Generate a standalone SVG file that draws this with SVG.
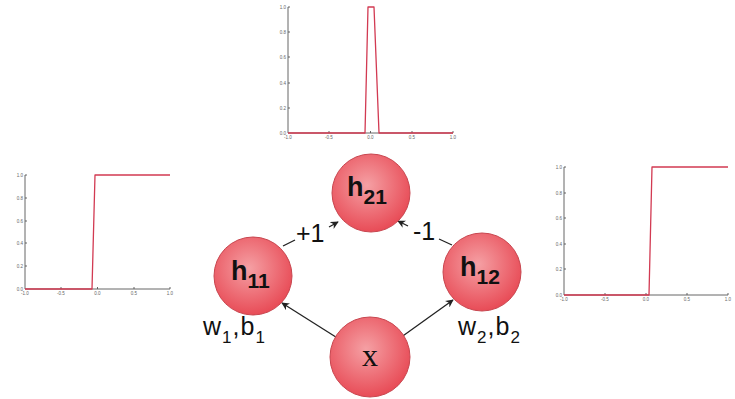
<svg xmlns="http://www.w3.org/2000/svg" width="735" height="399" viewBox="0 0 735 399">
<defs>
<radialGradient id="ball" cx="45%" cy="40%" r="60%">
<stop offset="0" stop-color="#f5a0a4"/>
<stop offset="1" stop-color="#e84c57"/>
</radialGradient>
<marker id="ah" viewBox="0 0 10 10" refX="9" refY="5" markerWidth="8" markerHeight="8" markerUnits="userSpaceOnUse" orient="auto">
<path d="M0,0 L10,5 L0,10 L3,5 Z" fill="#222"/>
</marker>
</defs>
<style>
.node{fill:url(#ball);stroke:#c8464f;stroke-width:1}
.nl{font-family:"Liberation Sans",Arial,sans-serif;font-weight:bold;fill:#111}
.lbl{font-family:"Liberation Sans",Arial,sans-serif;fill:#111}
.edge{stroke:#222;stroke-width:1.3;fill:none}
.ax{stroke:#555;stroke-width:0.9;fill:none}
.curve{stroke:#d23a52;stroke-width:1.3;fill:none;stroke-linejoin:round}
.tk{font-family:"Liberation Sans",Arial,sans-serif;font-size:4.5px;fill:#666}
</style>

<g id="plot-top">
<path class="ax" d="M288,7 V133 H453"/>
<path class="ax" d="M288,108 h2 M288,83 h2 M288,57 h2 M288,32 h2 M288,7 h2 M329,133 v-2 M370.5,133 v-2 M412,133 v-2 M453,133 v-2"/>
<path class="curve" d="M288,133 H365 L368,7 H374 L379,133 H453"/>
<g class="tk" text-anchor="end">
<text x="286" y="135">0.0</text><text x="286" y="110">0.2</text><text x="286" y="85">0.4</text><text x="286" y="59">0.6</text><text x="286" y="34">0.8</text><text x="286" y="9">1.0</text>
</g>
<g class="tk" text-anchor="middle">
<text x="288" y="139">-1.0</text><text x="329" y="139">-0.5</text><text x="370.5" y="139">0.0</text><text x="412" y="139">0.5</text><text x="453" y="139">1.0</text>
</g>
</g>

<g id="plot-left">
<path class="ax" d="M25,175 V289 H170"/>
<path class="ax" d="M25,266 h2 M25,243 h2 M25,221 h2 M25,198 h2 M25,175 h2 M61,289 v-2 M97.5,289 v-2 M134,289 v-2 M170,289 v-2"/>
<path class="curve" d="M25,289 H92 L95,175 H170"/>
<g class="tk" text-anchor="end">
<text x="23" y="291">0.0</text><text x="23" y="268">0.2</text><text x="23" y="245">0.4</text><text x="23" y="223">0.6</text><text x="23" y="200">0.8</text><text x="23" y="177">1.0</text>
</g>
<g class="tk" text-anchor="middle">
<text x="25" y="295">-1.0</text><text x="61" y="295">-0.5</text><text x="97.5" y="295">0.0</text><text x="134" y="295">0.5</text><text x="170" y="295">1.0</text>
</g>
</g>

<g id="plot-right">
<path class="ax" d="M564,167 V295 H728"/>
<path class="ax" d="M564,269 h2 M564,244 h2 M564,218 h2 M564,193 h2 M564,167 h2 M605,295 v-2 M646,295 v-2 M687,295 v-2 M728,295 v-2"/>
<path class="curve" d="M564,295 H649 L652,167 H728"/>
<g class="tk" text-anchor="end">
<text x="562" y="297">0.0</text><text x="562" y="271">0.2</text><text x="562" y="246">0.4</text><text x="562" y="220">0.6</text><text x="562" y="195">0.8</text><text x="562" y="169">1.0</text>
</g>
<g class="tk" text-anchor="middle">
<text x="564" y="301">-1.0</text><text x="605" y="301">-0.5</text><text x="646" y="301">0.0</text><text x="687" y="301">0.5</text><text x="728" y="301">1.0</text>
</g>
</g>

<g id="connectors">
<line class="edge" x1="283" y1="246" x2="295" y2="240"/>
<line class="edge" x1="329" y1="227" x2="338" y2="222" marker-end="url(#ah)"/>
<line class="edge" x1="452" y1="245" x2="439" y2="239"/>
<line class="edge" x1="408" y1="226" x2="398" y2="221" marker-end="url(#ah)"/>
<line class="edge" x1="339" y1="339" x2="282" y2="303" marker-end="url(#ah)"/>
<line class="edge" x1="400" y1="338" x2="453" y2="300" marker-end="url(#ah)"/>
<text class="lbl" x="296" y="242" font-size="25">+1</text>
<text class="lbl" x="413" y="240" font-size="25">-1</text>
</g>

<g id="node-h21">
<circle class="node" cx="371" cy="193" r="39"/>
<text class="nl" x="347" y="196" font-size="27">h<tspan font-size="21" dy="8">21</tspan></text>
</g>
<g id="node-h11">
<circle class="node" cx="253" cy="276" r="39"/>
<text class="nl" x="231" y="280" font-size="27">h<tspan font-size="21" dy="8">11</tspan></text>
</g>
<g id="node-h12">
<circle class="node" cx="482" cy="272" r="39"/>
<text class="nl" x="460" y="276" font-size="27">h<tspan font-size="21" dy="8">12</tspan></text>
</g>
<g id="node-x">
<circle class="node" cx="370" cy="357" r="40"/>
<text x="370" y="366" font-size="32" text-anchor="middle" font-family="'Liberation Serif','Times New Roman',serif" fill="#111">x</text>
</g>

<g id="weights">
<text class="lbl" x="203" y="335" font-size="25" letter-spacing="1">w<tspan font-size="17" dy="8">1</tspan><tspan dy="-8">,b</tspan><tspan font-size="17" dy="8">1</tspan></text>
<text class="lbl" x="458" y="335" font-size="25" letter-spacing="1">w<tspan font-size="17" dy="8">2</tspan><tspan dy="-8">,b</tspan><tspan font-size="17" dy="8">2</tspan></text>
</g>
</svg>
